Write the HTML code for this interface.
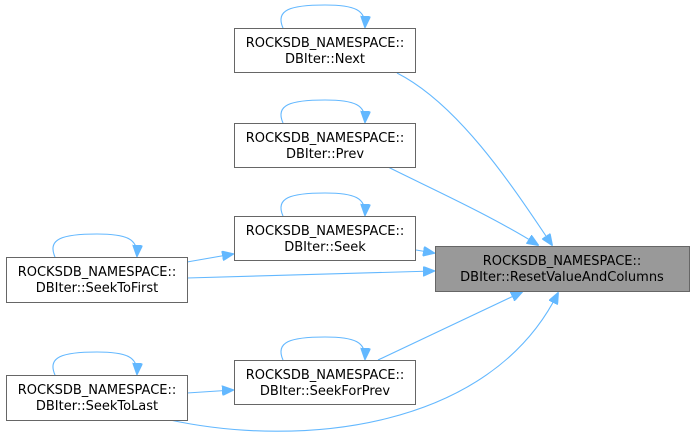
<!DOCTYPE html>
<html><head><style>
body{margin:0;background:#fff;width:696px;height:442px;overflow:hidden}
text{font-family:"DejaVu Sans","Liberation Sans",sans-serif;font-size:13px;fill:#000;text-anchor:middle}
</style></head><body>
<svg width="696" height="442" viewBox="0 0 696 442">
<defs><marker id="a" markerWidth="12" markerHeight="10" refX="11" refY="5" orient="auto" markerUnits="userSpaceOnUse"><path d="M0,0 L12,5 L0,10 z" fill="#63b8ff" stroke="#63b8ff"/></marker></defs>
<g fill="none" stroke="#63b8ff" stroke-width="1.1">
<path d="M397,73 C460,105 515,190 552,245" marker-end="url(#a)"/>
<path d="M388,167 C430,188 490,215 538,245" marker-end="url(#a)"/>
<path d="M416,250 L434,253" marker-end="url(#a)"/>
<path d="M187,278 L434,271" marker-end="url(#a)"/>
<path d="M378,360 C420,340 480,312 522,292" marker-end="url(#a)"/>
<path d="M170,420 C300,448 490,430 558,293" marker-end="url(#a)"/>
<path d="M187,262 L233,254" marker-end="url(#a)"/>
<path d="M187,393 L233,390" marker-end="url(#a)"/>
<path d="M283,28 C275,10 290,5 325,5 C355,5 366,10 365,27" marker-end="url(#a)"/>
<path d="M283,123 C275,105 290,100 325,100 C355,100 366,105 365,122" marker-end="url(#a)"/>
<path d="M283,216 C275,198 290,193 325,193 C355,193 366,198 365,215" marker-end="url(#a)"/>
<path d="M283,360 C275,342 290,337 325,337 C355,337 366,342 365,359" marker-end="url(#a)"/>
<path d="M55,257 C47,239 62,234 97,234 C127,234 138,239 137,256" marker-end="url(#a)"/>
<path d="M55,375 C47,357 62,352 97,352 C127,352 138,357 137,374" marker-end="url(#a)"/>
</g>
<g stroke="#666" stroke-width="1">
<rect x="234.5" y="28.5" width="181" height="44" fill="#fff"/>
<rect x="234.5" y="123.5" width="181" height="44" fill="#fff"/>
<rect x="234.5" y="216.5" width="181" height="44" fill="#fff"/>
<rect x="234.5" y="360.5" width="181" height="44" fill="#fff"/>
<rect x="6.5" y="257.5" width="181" height="45" fill="#fff"/>
<rect x="6.5" y="375.5" width="181" height="45" fill="#fff"/>
<rect x="435.5" y="246.5" width="254" height="45" fill="#999"/>
</g>
<text x="325" y="47">ROCKSDB_NAMESPACE::</text><text x="325" y="63">DBIter::Next</text>
<text x="325" y="142">ROCKSDB_NAMESPACE::</text><text x="325" y="158">DBIter::Prev</text>
<text x="325" y="235">ROCKSDB_NAMESPACE::</text><text x="325" y="251">DBIter::Seek</text>
<text x="325" y="379">ROCKSDB_NAMESPACE::</text><text x="325" y="395">DBIter::SeekForPrev</text>
<text x="97" y="276">ROCKSDB_NAMESPACE::</text><text x="97" y="292">DBIter::SeekToFirst</text>
<text x="97" y="394">ROCKSDB_NAMESPACE::</text><text x="97" y="410">DBIter::SeekToLast</text>
<text x="562" y="265">ROCKSDB_NAMESPACE::</text><text x="562" y="281">DBIter::ResetValueAndColumns</text>
</svg>
</body></html>
